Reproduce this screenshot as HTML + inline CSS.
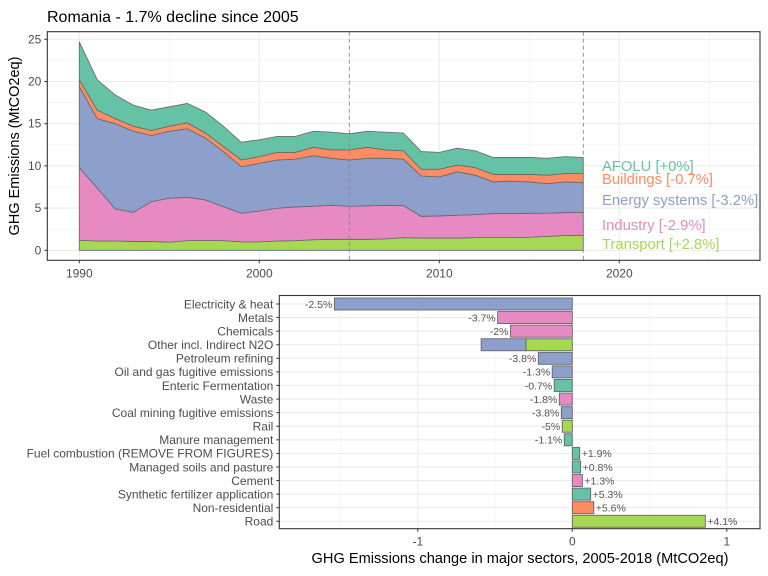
<!DOCTYPE html>
<html><head><meta charset="utf-8"><style>
body{margin:0;background:#fff;}
svg{font-family:"Liberation Sans",sans-serif;display:block;}
</style></head><body>
<svg id="c" width="768" height="576" viewBox="0 0 768 576" xmlns="http://www.w3.org/2000/svg">
<rect width="768" height="576" fill="#fff"/>
<text x="47" y="22" font-size="16" fill="#000">Romania - 1.7% decline since 2005</text>
<g id="top"></g>
<g id="bot"></g>
</svg>
<script>
// ---- Top chart data (cumulative stacked levels, MtCO2eq) ----
const years = [1990,1991,1992,1993,1994,1995,1996,1997,1998,1999,2000,2001,2002,2003,2004,2005,2006,2007,2008,2009,2010,2011,2012,2013,2014,2015,2016,2017,2018];
const transportTop = [1.19,1.1,1.1,1.05,1.05,0.95,1.15,1.15,1.15,1.0,1.0,1.1,1.15,1.25,1.3,1.3,1.3,1.35,1.5,1.45,1.45,1.45,1.5,1.5,1.5,1.55,1.65,1.75,1.78];
const industryTop = [9.8,7.35,4.9,4.5,5.77,6.17,6.28,5.97,5.18,4.39,4.66,4.98,5.14,5.22,5.34,5.22,5.26,5.34,5.3,4.03,4.07,4.15,4.23,4.35,4.35,4.39,4.39,4.47,4.47];
const energyTop = [19.4,15.6,15.0,14.1,13.6,14.1,14.4,13.3,11.7,9.9,10.3,10.7,10.8,11.2,10.9,10.7,10.9,10.9,10.8,8.8,8.7,9.3,8.9,8.1,8.2,8.1,7.9,8.1,8.0];
const buildingsTop = [20.2,16.6,15.6,14.7,14.2,14.7,15.1,13.9,12.3,10.7,11.1,11.6,11.6,12.2,11.9,11.9,12.2,11.9,11.8,9.6,9.6,10.1,9.8,9.0,9.0,9.0,8.9,9.1,9.1];
const afoluTop = [24.7,20.2,18.4,17.2,16.6,17.0,17.4,16.4,14.7,12.8,13.1,13.5,13.5,14.1,14.0,13.8,14.1,14.0,13.9,11.7,11.6,12.1,11.8,11.0,11.0,11.0,10.9,11.1,11.0];
const sectorNames = ["Transport","Industry","Energy systems","Buildings","AFOLU"];
const sectorLabels = ["Transport [+2.8%]","Industry [-2.9%]","Energy systems [-3.2%]","Buildings [-0.7%]","AFOLU [+0%]"];
const yTicks = [0,5,10,15,20,25];
const xTicks = [1990,2000,2010,2020];
const refYears = [2005,2018];

// ---- Bottom chart data ----
const cats = ["Electricity & heat","Metals","Chemicals","Other incl. Indirect N2O","Petroleum refining","Oil and gas fugitive emissions","Enteric Fermentation","Waste","Coal mining fugitive emissions","Rail","Manure management","Fuel combustion (REMOVE FROM FIGURES)","Managed soils and pasture","Cement","Synthetic fertilizer application","Non-residential","Road"];
const catSector = ["Energy systems","Industry","Industry","Transport","Energy systems","Energy systems","AFOLU","Industry","Energy systems","Transport","AFOLU","AFOLU","AFOLU","Industry","AFOLU","Buildings","Transport"];
const changes = [-1.54,-0.483,-0.40,-0.30,-0.22,-0.13,-0.117,-0.084,-0.071,-0.065,-0.052,0.048,0.054,0.065,0.119,0.139,0.861];
const changeLabels = ["-2.5%","-3.7%","-2%","","-3.8%","-1.3%","-0.7%","-1.8%","-3.8%","-5%","-1.1%","+1.9%","+0.8%","+1.3%","+5.3%","+5.6%","+4.1%"];
const extraCat = ["Other incl. Indirect N2O"];
const extraSector = ["Energy systems"];
const extraChange = [-0.29];
const bTicks = [-1,0,1];

const colors = {"AFOLU":"#66c2a5","Buildings":"#fc8d62","Energy systems":"#8da0cb","Industry":"#e78ac3","Transport":"#a6d854"};
const NS="http://www.w3.org/2000/svg";
function mk(parent,tag,attrs,name,text){const e=document.createElementNS(NS,tag);for(const k in attrs)e.setAttribute(k,attrs[k]);


if(text!==undefined)e.textContent=text;parent.appendChild(e);return e;}

// ---- Top chart ----
const T=document.getElementById('top');
const tL=47.3,tR=760,tT=31.7,tB=260.3;
const xT=y=>79.3+(y-1990)*18;
const yT=v=>250.3-v*8.44;
mk(T,'rect',{x:tL,y:tT,width:tR-tL,height:tB-tT,fill:'#fff'},'top-panel');
for(let v=2.5;v<27;v+=5)mk(T,'line',{x1:tL,x2:tR,y1:yT(v),y2:yT(v),stroke:'#f0f0f0','stroke-width':0.6},'y-minor-grid');
for(let y=1995;y<2030;y+=10)mk(T,'line',{x1:xT(y),x2:xT(y),y1:tT,y2:tB,stroke:'#f0f0f0','stroke-width':0.6},'x-minor-grid');
yTicks.forEach(v=>mk(T,'line',{x1:tL,x2:tR,y1:yT(v),y2:yT(v),stroke:'#ebebeb','stroke-width':1.1},'y-major-grid'));
xTicks.forEach(y=>mk(T,'line',{x1:xT(y),x2:xT(y),y1:tT,y2:tB,stroke:'#ebebeb','stroke-width':1.1},'x-major-grid'));
const layers=[[null,transportTop],[transportTop,industryTop],[industryTop,energyTop],[energyTop,buildingsTop],[buildingsTop,afoluTop]];
layers.forEach((l,i)=>{
  const lo=l[0],hi=l[1];let d='';
  years.forEach((y,j)=>{d+=(j?'L':'M')+xT(y)+','+yT(hi[j]);});
  for(let j=years.length-1;j>=0;j--)d+='L'+xT(years[j])+','+yT(lo?lo[j]:0);
  d+='Z';
  mk(T,'path',{d:d,fill:colors[sectorNames[i]],stroke:'#666','stroke-width':0.8},'area-'+sectorNames[i].toLowerCase().replace(/ /g,'-'));
});
refYears.forEach(y=>mk(T,'line',{x1:xT(y),x2:xT(y),y1:tT,y2:tB,stroke:'#888','stroke-width':0.9,'stroke-dasharray':'4,3'},'ref-line-'+y));
mk(T,'rect',{x:tL,y:tT,width:tR-tL,height:tB-tT,fill:'none',stroke:'#333','stroke-width':1.1},'top-panel-border');
yTicks.forEach(v=>{mk(T,'line',{x1:tL-3,x2:tL,y1:yT(v),y2:yT(v),stroke:'#333'},'y-tick');
  mk(T,'text',{x:tL-6,y:yT(v)+4,'font-size':12,fill:'#4d4d4d','text-anchor':'end'},'y-tick-label',v);});
xTicks.forEach(y=>{mk(T,'line',{x1:xT(y),x2:xT(y),y1:tB,y2:tB+3,stroke:'#333'},'x-tick');
  mk(T,'text',{x:xT(y),y:tB+17,'font-size':12,fill:'#4d4d4d','text-anchor':'middle'},'x-tick-label',y);});
mk(T,'text',{x:0,y:0,'font-size':14.5,fill:'#000','text-anchor':'middle',transform:'translate(19,146) rotate(-90)'},'y-axis-title','GHG Emissions (MtCO2eq)');
const labY=[249,230,205,184,171];
sectorLabels.forEach((s,i)=>mk(T,'text',{x:602,y:labY[i],'font-size':14.8,fill:colors[sectorNames[i]]},'series-label-'+sectorNames[i].toLowerCase().replace(/ /g,'-'),s));

// ---- Bottom chart ----
const B=document.getElementById('bot');
const bL=279.3,bR=760,bT=295.5,bB=528.7;
const xB=v=>572.3+v*154.5;
const yB=i=>304+i*13.58;
mk(B,'rect',{x:bL,y:bT,width:bR-bL,height:bB-bT,fill:'#fff'},'bottom-panel');
[-1.5,-0.5,0.5].forEach(v=>mk(B,'line',{x1:xB(v),x2:xB(v),y1:bT,y2:bB,stroke:'#f0f0f0','stroke-width':0.6},'x-minor-grid'));
bTicks.forEach(v=>mk(B,'line',{x1:xB(v),x2:xB(v),y1:bT,y2:bB,stroke:'#ebebeb','stroke-width':1.1},'x-major-grid'));
cats.forEach((c,i)=>mk(B,'line',{x1:bL,x2:bR,y1:yB(i),y2:yB(i),stroke:'#ebebeb','stroke-width':1.1},'y-major-grid'));
const bh=12;
function bar(i,a,b,sec,name){const x0=xB(Math.min(a,b)),x1=xB(Math.max(a,b));
  mk(B,'rect',{x:x0,y:yB(i)-bh/2,width:x1-x0,height:bh,fill:colors[sec],stroke:'#666','stroke-width':0.9},name);}
cats.forEach((c,i)=>{
  let v=changes[i];bar(i,0,v,catSector[i],'bar-'+i);
  let end=v;
  extraCat.forEach((ec,k)=>{if(ec===c){bar(i,v,v+extraChange[k],extraSector[k],'bar-extra-'+i);end=v+extraChange[k];}});
  if(changeLabels[i]){const neg=end<0;
    mk(B,'text',{x:xB(end)+(neg?-2:2),y:yB(i)+3.8,'font-size':10.5,fill:'#555','text-anchor':neg?'end':'start'},'value-label',changeLabels[i]);}
  mk(B,'line',{x1:bL-3,x2:bL,y1:yB(i),y2:yB(i),stroke:'#333'},'y-tick');
  mk(B,'text',{x:bL-6,y:yB(i)+4.3,'font-size':12,fill:'#4d4d4d','text-anchor':'end'},'category-label',c);
});
mk(B,'rect',{x:bL,y:bT,width:bR-bL,height:bB-bT,fill:'none',stroke:'#333','stroke-width':1.1},'bottom-panel-border');
bTicks.forEach(v=>{mk(B,'line',{x1:xB(v),x2:xB(v),y1:bB,y2:bB+3,stroke:'#333'},'x-tick');
  mk(B,'text',{x:xB(v),y:bB+17,'font-size':12,fill:'#4d4d4d','text-anchor':'middle'},'x-tick-label',v);});
mk(B,'text',{x:520,y:563,'font-size':14.6,fill:'#000','text-anchor':'middle'},'x-axis-title','GHG Emissions change in major sectors, 2005-2018 (MtCO2eq)');
</script>
</body></html>
